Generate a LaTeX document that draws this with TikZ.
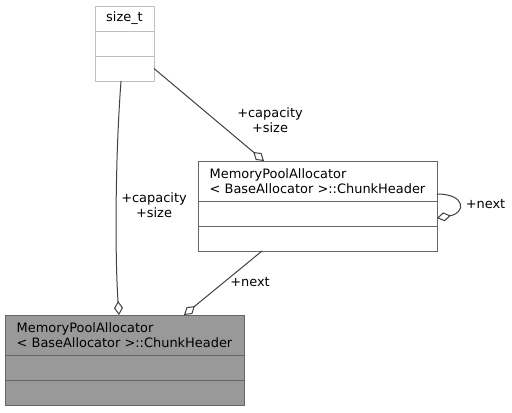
\documentclass[tikz,border=0pt]{standalone}
\usepackage{fontspec}
\setmainfont{DejaVu Sans}
\usetikzlibrary{arrows.meta, positioning}
\definecolor{edgegray}{HTML}{404040}
\definecolor{framegray}{HTML}{666666}
\definecolor{framelight}{HTML}{BFBFBF}
\definecolor{focusfill}{HTML}{999999}

\begin{document}
\begin{tikzpicture}[x=0.75pt, y=-0.75pt,
  cls/.style={draw=framegray, line width=0.75pt, outer sep=0pt, inner sep=0pt,
    minimum width=179.25pt, font=\fontsize{9.7}{10.9}\selectfont, align=left},
  hdr/.style={cls, minimum height=30pt},
  cmp/.style={cls, minimum height=18.75pt},
  prim/.style={cls, draw=framelight, minimum width=44.25pt, minimum height=18.75pt},
  agg/.style={draw=edgegray, line width=0.75pt,
    -{Diamond[length=10.5pt, width=6.75pt, fill=white]}},
  lbl/.style={font=\fontsize{9.7}{10.9}\selectfont, align=center, inner sep=0pt}
]
\useasboundingbox (0,0) rectangle (512,412);

% size_t
\node[prim] (stH) at (124.5,18.5) {size\_t};
\node[prim, below=0pt of stH] (stA) {};
\node[prim, below=0pt of stA] (stB) {};

% ChunkHeader (referenced)
\node[hdr] (chAh) at (317.5,181) {MemoryPoolAllocator\\< BaseAllocator >::ChunkHeader};
\node[cmp, below=0pt of chAh] (chAa) {};
\node[cmp, below=0pt of chAa] (chAb) {};

% ChunkHeader (this class)
\node[hdr, fill=focusfill] (chBh) at (124.5,335) {MemoryPoolAllocator\\< BaseAllocator >::ChunkHeader};
\node[cmp, fill=focusfill, below=0pt of chBh] (chBa) {};
\node[cmp, fill=focusfill, below=0pt of chBa] (chBb) {};

% aggregations
\draw[agg] ([xshift=-2.6pt]stB.south) .. controls (115,160) and (115,260) .. ([xshift=-4.1pt]chBh.north);
\draw[agg] (stB.east) -- ([xshift=49.5pt]chAh.north west);
\draw[agg] ([xshift=48pt]chAb.south west) -- ([xshift=134.25pt]chBh.north west);
\draw[agg] ([yshift=-9.75pt]chAh.east) .. controls (466,194) and (466,213) .. ([yshift=-3.4pt]chAa.east);

\node[lbl] (capA) at (270,120) {+capacity\\+size};
\node[lbl] (capB) at (154,205) {+capacity\\+size};
\node[lbl] (nxtB) at (250,282) {+next};
\node[lbl] (nxtA) at (485.5,204) {+next};
\end{tikzpicture}
\end{document}
